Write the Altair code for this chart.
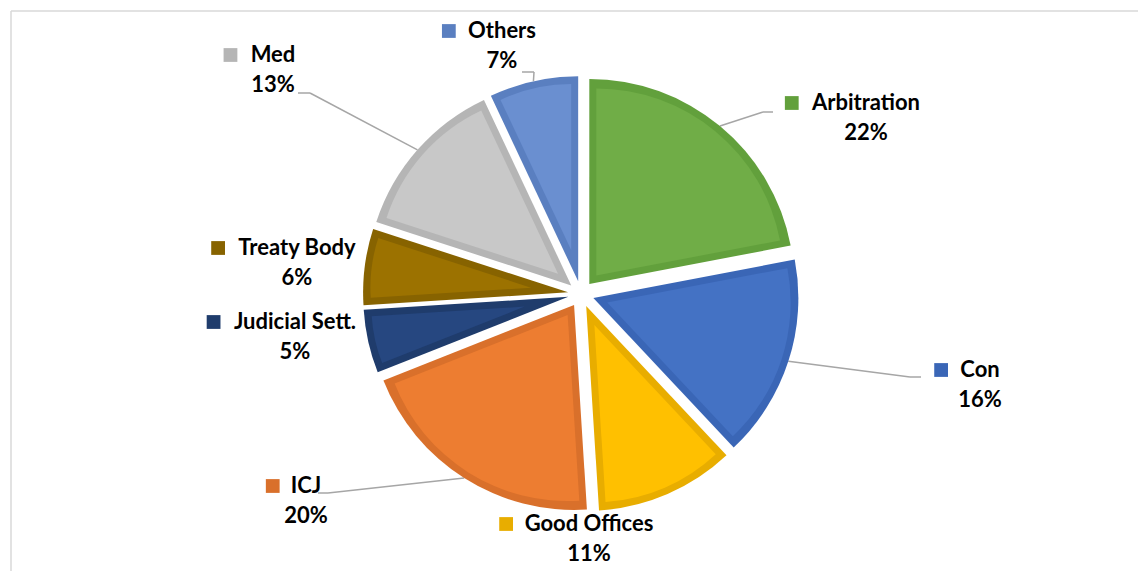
import math
import altair as alt
import pandas as pd

# ---------------- data ----------------
categories = ["Arbitration", "Con", "Good Offices", "ICJ",
              "Judicial Sett.", "Treaty Body", "Med", "Others"]
shares = [22, 16, 11, 20, 5, 6, 13, 7]

# ---------------- styles ----------------
fill_colors = ["#70AD47", "#4472C4", "#FFC000", "#ED7D31",
               "#264780", "#9C7200", "#C8C8C8", "#6A8FD0"]
edge_colors = ["#62A03C", "#3A66B6", "#E8AD00", "#D9702B",
               "#1F3C6C", "#876300", "#B5B5B5", "#5A7FC0"]

# ---------------- layout (page pixels) ----------------
CX, CY = 581, 294          # pie centre
EXPLODE = 13               # explosion distance of each slice
R = 205                    # slice radius
BORDER = 7                 # inner border band width
FONT = "Lato"
FSIZE = 22

label_x = [866, 980, 589, 306, 295, 297, 273, 502]
label_y = [103, 370, 524, 486, 322, 248, 55, 31]
elbow_x = [763, 910, None, 328, None, None, 310, 534]
elbow_y = [112, 377, None, 493, None, None, 93, 72]
end_x = [773, 921, None, 318, None, None, 298, 522]
end_y = [112, 377, None, 493, None, None, 93, 72]

# approximate advance widths (em) used to put the legend key left of a label
_cw = {'A': .606, 'r': .355, 'b': .537, 'i': .246, 't': .347, 'a': .494, 'o': .538,
       'n': .537, 'C': .529, 'G': .630, 'd': .537, ' ': .226, 'O': .676, 'f': .316,
       'c': .418, 'e': .503, 's': .399, 'I': .267, 'J': .331, 'u': .537, 'l': .246,
       'S': .473, 'T': .495, 'y': .474, 'B': .561, 'M': .874, 'h': .537, '.': .267}


def text_w(s):
    return sum(_cw.get(ch, .5) for ch in s) * 1.07 * FSIZE


square_x = [lx - text_w(c) / 2 - 20 for lx, c in zip(label_x, categories)]

df = pd.DataFrame({
    "cat": categories, "share": shares, "order": list(range(len(categories))),
    "lx": label_x, "ly": label_y, "sqx": square_x,
    "px": elbow_x, "py": elbow_y, "qx": end_x, "qy": end_y,
})

xs = alt.Scale(domain=[8, 1138], nice=False, zero=False)
ys = alt.Scale(domain=[8, 571], nice=False, zero=False, reverse=True)
ts = alt.Scale(domain=[0, 100], range=[0, 2 * math.pi], zero=False, nice=False)
rs = alt.Scale(type="linear", domain=[0, 300], range=[0, 300], zero=True, nice=False)
fill_scale = alt.Scale(domain=categories, range=fill_colors)
edge_scale = alt.Scale(domain=categories, range=edge_colors)

base = (
    alt.Chart(df)
    .transform_window(cum="sum(share)", sort=[alt.SortField("order")], frame=[None, 0])
    .transform_calculate(
        t0="datum.cum - datum.share",
        t1="datum.cum",
        ang="2*PI*(datum.cum - datum.share/2)/100",
        half="PI*datum.share/100",
        shift=f"{BORDER}/sin(datum.half)",
        ax=f"{CX} + {EXPLODE}*sin(datum.ang)",
        ay=f"{CY} - {EXPLODE}*cos(datum.ang)",
        ix=f"{CX} + ({EXPLODE} + datum.shift)*sin(datum.ang)",
        iy=f"{CY} - ({EXPLODE} + datum.shift)*cos(datum.ang)",
        ri=f"{R} - {BORDER} - datum.shift",
        ro=f"{R}",
        ex=f"{CX} + ({EXPLODE} + {R})*sin(datum.ang)",
        ey=f"{CY} - ({EXPLODE} + {R})*cos(datum.ang)",
        pct="datum.share + '%'",
    )
)

outer = base.mark_arc(strokeWidth=0).encode(
    theta=alt.Theta("t0:Q", scale=ts, stack=False),
    theta2="t1:Q",
    radius=alt.Radius("ro:Q", scale=rs),
    x=alt.X("ax:Q", scale=xs, axis=None),
    y=alt.Y("ay:Q", scale=ys, axis=None),
    fill=alt.Fill("cat:N", scale=edge_scale, legend=None),
)

inner = base.mark_arc(strokeWidth=0).encode(
    theta=alt.Theta("t0:Q", scale=ts, stack=False),
    theta2="t1:Q",
    radius=alt.Radius("ri:Q", scale=rs),
    x=alt.X("ix:Q", scale=xs, axis=None),
    y=alt.Y("iy:Q", scale=ys, axis=None),
    color=alt.Color("cat:N", scale=fill_scale, legend=None),
)

leaders = base.transform_filter("isValid(datum.px)")
seg1 = leaders.mark_rule(color="#A6A6A6", strokeWidth=1.5).encode(
    x=alt.X("ex:Q", scale=xs, axis=None), y=alt.Y("ey:Q", scale=ys, axis=None),
    x2="px:Q", y2="py:Q",
)
seg2 = leaders.mark_rule(color="#A6A6A6", strokeWidth=1.5).encode(
    x=alt.X("px:Q", scale=xs, axis=None), y=alt.Y("py:Q", scale=ys, axis=None),
    x2="qx:Q", y2="qy:Q",
)

keys = base.mark_square(size=190, opacity=1, strokeWidth=0).encode(
    x=alt.X("sqx:Q", scale=xs, axis=None),
    y=alt.Y("ly:Q", scale=ys, axis=None),
    fill=alt.Fill("cat:N", scale=edge_scale, legend=None),
)

names = base.mark_text(font=FONT, fontSize=FSIZE, fontWeight="bold", color="#000000",
                       align="center", baseline="middle").encode(
    x=alt.X("lx:Q", scale=xs, axis=None),
    y=alt.Y("ly:Q", scale=ys, axis=None),
    text="cat:N",
)
pcts = base.transform_calculate(ly2="datum.ly + 30").mark_text(
    font=FONT, fontSize=FSIZE, fontWeight="bold", color="#000000",
    align="center", baseline="middle").encode(
    x=alt.X("lx:Q", scale=xs, axis=None),
    y=alt.Y("ly2:Q", scale=ys, axis=None),
    text="pct:N",
)

frame_src = alt.Chart(pd.DataFrame({"k": [0]}))
frame_left = frame_src.mark_rule(color="#D9D9D9", strokeWidth=1.5).encode(
    x=alt.value(3), y=alt.value(3), y2=alt.value(563))
frame_top = frame_src.mark_rule(color="#D9D9D9", strokeWidth=1.5).encode(
    x=alt.value(3), x2=alt.value(1138), y=alt.value(3))

chart = (
    alt.layer(frame_left, frame_top, seg1, seg2, outer, inner, keys, names, pcts)
    .resolve_scale(fill="independent")
    .properties(width=1130, height=563, padding=0, autosize="none")
    .configure_view(strokeWidth=0)
)

chart.save("out.html", embed_options={"renderer": "svg", "actions": False})
